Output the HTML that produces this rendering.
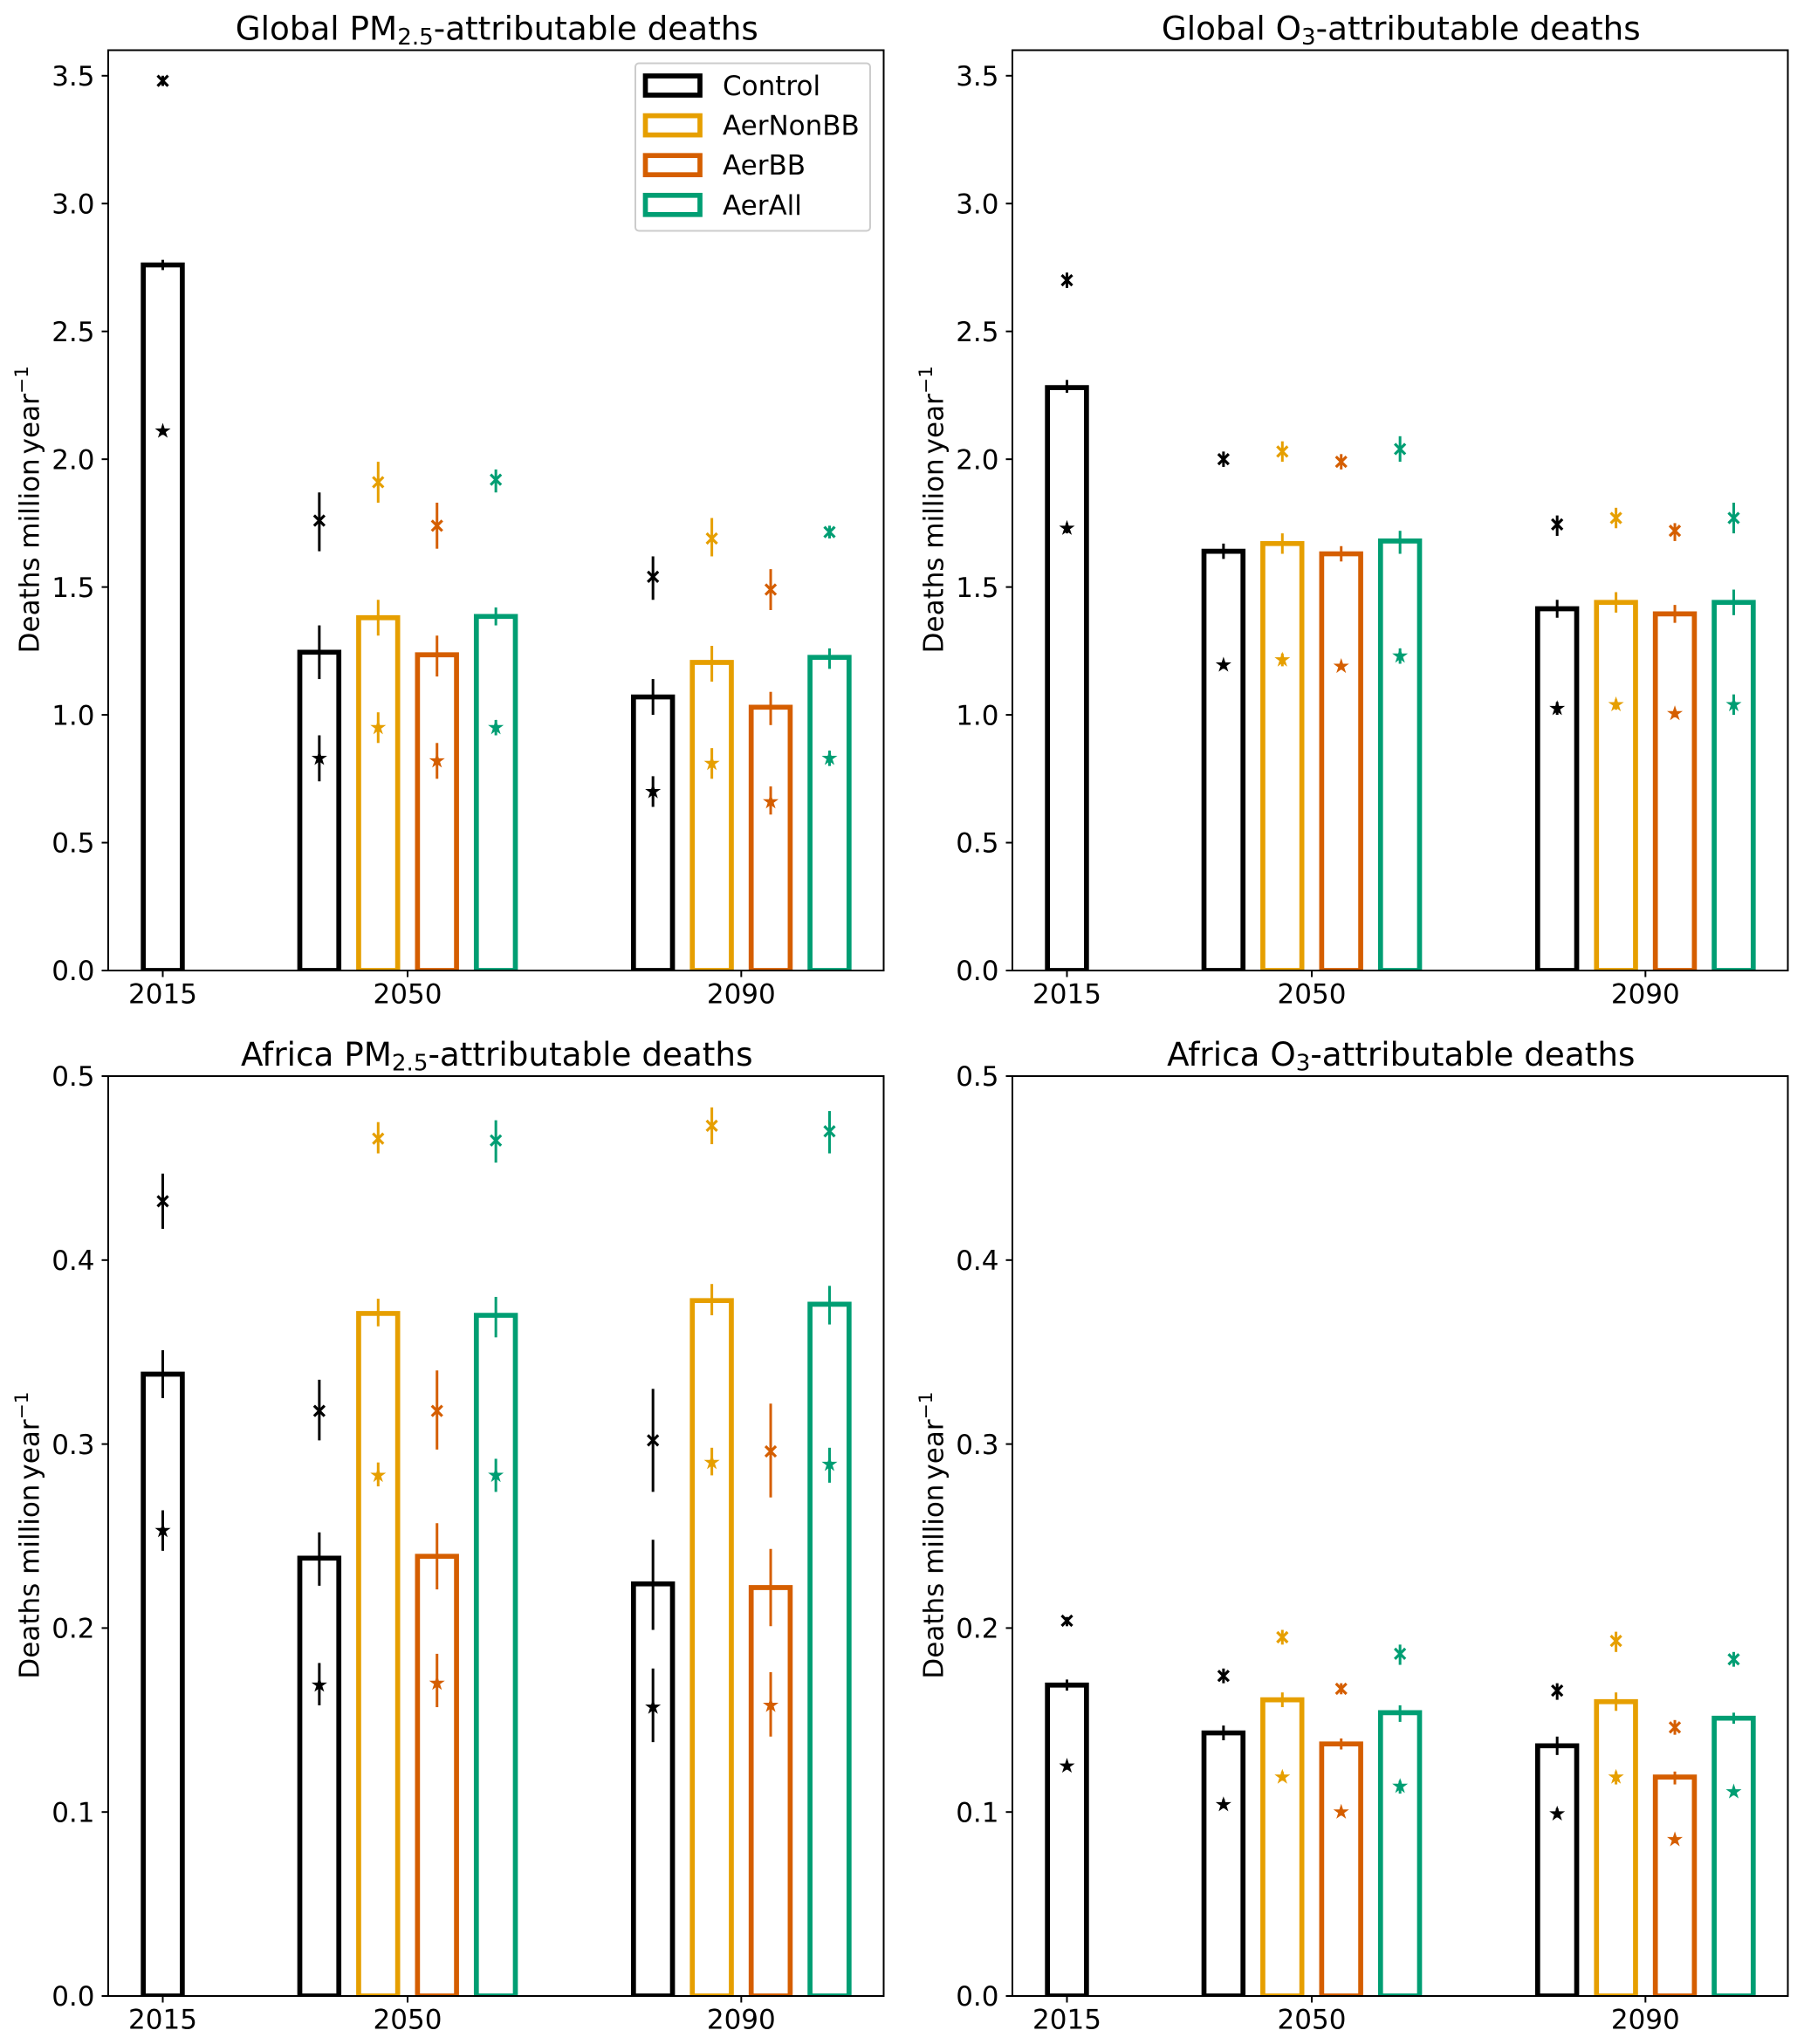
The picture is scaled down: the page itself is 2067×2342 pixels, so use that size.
<!DOCTYPE html>
<html>
<head>
<meta charset="utf-8">
<title>Attributable deaths</title>
<style>
html,body{margin:0;padding:0;background:#fff;}
svg{display:block;}
text{font-family:"DejaVu Sans",sans-serif;fill:#000;}
</style>
</head>
<body>
<svg id="fig" width="2067" height="2342" viewBox="0 0 2067 2342" xmlns="http://www.w3.org/2000/svg"></svg>
<script>
const yearLabels = ['2015', '2050', '2090'];
const yearPositions = [0, 4.16, 9.83];
const scenarioNames = ['Control', 'AerNonBB', 'AerBB', 'AerAll'];
const scenarioColors = ['#000000', '#E69F00', '#D55E00', '#009E73'];
const barYears = [0, 1, 1, 1, 1, 2, 2, 2, 2];
const barScenarios = [0, 0, 1, 2, 3, 0, 1, 2, 3];

const globalTicks = [0, 0.5, 1, 1.5, 2, 2.5, 3, 3.5];
const africaTicks = [0, 0.1, 0.2, 0.3, 0.4, 0.5];

const gpmBar = [2.76, 1.245, 1.38, 1.235, 1.385, 1.07, 1.205, 1.03, 1.225];
const gpmBarLow = [2.74, 1.14, 1.31, 1.15, 1.35, 1.00, 1.13, 0.96, 1.18];
const gpmBarHigh = [2.78, 1.35, 1.45, 1.31, 1.42, 1.14, 1.27, 1.09, 1.26];
const gpmUpper = [3.48, 1.76, 1.91, 1.74, 1.92, 1.54, 1.69, 1.49, 1.715];
const gpmUpperLow = [3.46, 1.64, 1.83, 1.65, 1.87, 1.45, 1.62, 1.41, 1.69];
const gpmUpperHigh = [3.50, 1.87, 1.99, 1.83, 1.96, 1.62, 1.77, 1.57, 1.74];
const gpmLower = [2.11, 0.83, 0.95, 0.82, 0.95, 0.70, 0.81, 0.66, 0.83];
const gpmLowerLow = [2.095, 0.74, 0.89, 0.75, 0.92, 0.64, 0.75, 0.61, 0.80];
const gpmLowerHigh = [2.125, 0.92, 1.01, 0.89, 0.98, 0.76, 0.87, 0.72, 0.86];

const go3Bar = [2.28, 1.64, 1.67, 1.63, 1.68, 1.415, 1.44, 1.395, 1.44];
const go3BarLow = [2.26, 1.61, 1.63, 1.60, 1.63, 1.38, 1.40, 1.36, 1.39];
const go3BarHigh = [2.31, 1.67, 1.71, 1.66, 1.72, 1.45, 1.48, 1.43, 1.49];
const go3Upper = [2.70, 2.00, 2.03, 1.99, 2.04, 1.745, 1.77, 1.72, 1.77];
const go3UpperLow = [2.67, 1.97, 1.99, 1.96, 1.99, 1.70, 1.73, 1.68, 1.71];
const go3UpperHigh = [2.73, 2.03, 2.07, 2.02, 2.09, 1.78, 1.81, 1.75, 1.83];
const go3Lower = [1.73, 1.195, 1.215, 1.19, 1.23, 1.025, 1.04, 1.005, 1.04];
const go3LowerLow = [1.71, 1.18, 1.19, 1.18, 1.20, 1.00, 1.02, 0.99, 1.00];
const go3LowerHigh = [1.75, 1.21, 1.24, 1.20, 1.26, 1.05, 1.06, 1.02, 1.08];

const apmBar = [0.338, 0.238, 0.371, 0.239, 0.370, 0.224, 0.378, 0.222, 0.376];
const apmBarLow = [0.325, 0.223, 0.364, 0.221, 0.358, 0.199, 0.370, 0.201, 0.365];
const apmBarHigh = [0.351, 0.252, 0.379, 0.257, 0.380, 0.248, 0.387, 0.243, 0.386];
const apmUpper = [0.432, 0.318, 0.466, 0.318, 0.465, 0.302, 0.473, 0.296, 0.470];
const apmUpperLow = [0.417, 0.302, 0.458, 0.297, 0.453, 0.274, 0.463, 0.271, 0.458];
const apmUpperHigh = [0.447, 0.335, 0.475, 0.340, 0.476, 0.330, 0.483, 0.322, 0.481];
const apmLower = [0.253, 0.169, 0.283, 0.170, 0.283, 0.157, 0.290, 0.158, 0.289];
const apmLowerLow = [0.242, 0.158, 0.277, 0.157, 0.274, 0.138, 0.283, 0.141, 0.279];
const apmLowerHigh = [0.264, 0.181, 0.290, 0.186, 0.292, 0.178, 0.298, 0.176, 0.298];

const ao3Bar = [0.169, 0.143, 0.161, 0.137, 0.154, 0.136, 0.160, 0.119, 0.151];
const ao3BarLow = [0.166, 0.139, 0.157, 0.134, 0.149, 0.131, 0.155, 0.115, 0.148];
const ao3BarHigh = [0.172, 0.147, 0.165, 0.140, 0.158, 0.141, 0.165, 0.122, 0.154];
const ao3Upper = [0.204, 0.174, 0.195, 0.167, 0.186, 0.166, 0.193, 0.146, 0.183];
const ao3UpperLow = [0.201, 0.170, 0.191, 0.164, 0.180, 0.161, 0.187, 0.142, 0.179];
const ao3UpperHigh = [0.206, 0.178, 0.199, 0.170, 0.191, 0.170, 0.198, 0.150, 0.187];
const ao3Lower = [0.125, 0.104, 0.119, 0.100, 0.114, 0.099, 0.119, 0.085, 0.111];
const ao3LowerLow = [0.123, 0.102, 0.117, 0.098, 0.110, 0.097, 0.115, 0.083, 0.109];
const ao3LowerHigh = [0.127, 0.107, 0.122, 0.101, 0.117, 0.102, 0.122, 0.086, 0.113];

const NS = 'http://www.w3.org/2000/svg';
const fig = document.getElementById('fig');
const TICK_FONT = 31;
const TITLE_FONT = 37.3;

function make(tag, attrs, parent) {
  const el = document.createElementNS(NS, tag);
  for (const k in attrs) el.setAttribute(k, attrs[k]);
  (parent || fig).appendChild(el);
  return el;
}

function starPoints(cx, cy, R) {
  const r = R * 0.381966;
  const pts = [];
  for (let i = 0; i < 10; i++) {
    const a = -Math.PI / 2 + i * Math.PI / 5;
    const q = i % 2 === 0 ? R : r;
    pts.push((cx + q * Math.cos(a)).toFixed(2) + ',' + (cy + q * Math.sin(a)).toFixed(2));
  }
  return pts.join(' ');
}

function drawPanel(p, idx) {
  const g = make('g', {});
  
  
  const xScale = v => p.left + (v - (-0.927)) / (12.25 + 0.927) * (p.right - p.left);
  const yScale = v => p.bottom - (v / p.ymax) * (p.bottom - p.top);
  const unit = xScale(1) - xScale(0);
  const barWidth = 0.663 * unit;

  const clipId = 'clip' + idx;
  const defs = make('defs', {}, g);
  const cp = make('clipPath', { id: clipId }, defs);
  make('rect', { x: p.left, y: p.top, width: p.right - p.left, height: p.bottom - p.top }, cp);

  const marks = make('g', { 'clip-path': 'url(#' + clipId + ')' }, g);

  barYears.forEach((yr, i) => {
    const sc = barScenarios[i];
    const color = scenarioColors[sc];
    const offset = yr === 0 ? 0 : sc - 1.5;
    const cx = xScale(yearPositions[yr] + offset);
    const sname = scenarioNames[sc].toLowerCase() + '-' + yearLabels[yr];

    const bar = make('path', {
      d: 'M' + (cx - barWidth / 2) + ' ' + yScale(0) + 'L' + (cx - barWidth / 2) + ' ' + yScale(p.bar[i]) +
         'L' + (cx + barWidth / 2) + ' ' + yScale(p.bar[i]) + 'L' + (cx + barWidth / 2) + ' ' + yScale(0) + 'Z',
      fill: 'none', stroke: color, 'stroke-width': 5.7, 'stroke-linejoin': 'miter'
    }, marks);
    
    

    const e1 = make('line', { x1: cx, x2: cx, y1: yScale(p.barLow[i]), y2: yScale(p.barHigh[i]), stroke: color, 'stroke-width': 3 }, marks);
    
    

    const e2 = make('line', { x1: cx, x2: cx, y1: yScale(p.upperLow[i]), y2: yScale(p.upperHigh[i]), stroke: color, 'stroke-width': 3 }, marks);
    
    

    const uy = yScale(p.upper[i]);
    const s = 6;
    const xm = make('path', {
      d: 'M' + (cx - s) + ' ' + (uy - s) + 'L' + (cx + s) + ' ' + (uy + s) + 'M' + (cx - s) + ' ' + (uy + s) + 'L' + (cx + s) + ' ' + (uy - s),
      stroke: color, 'stroke-width': 3.2, fill: 'none'
    }, marks);
    
    

    const e3 = make('line', { x1: cx, x2: cx, y1: yScale(p.lowerLow[i]), y2: yScale(p.lowerHigh[i]), stroke: color, 'stroke-width': 3 }, marks);
    
    

    const st = make('polygon', { points: starPoints(cx, yScale(p.lower[i]), 7.2), fill: color, stroke: color, 'stroke-width': 1.4 }, marks);
    
    
  });

  const frame = make('rect', { x: p.left, y: p.top, width: p.right - p.left, height: p.bottom - p.top, fill: 'none', stroke: '#000', 'stroke-width': 2 }, g);
  
  

  p.ticks.forEach(t => {
    const y = yScale(t);
    const tk = make('line', { x1: p.left - 7.5, x2: p.left, y1: y, y2: y, stroke: '#000', 'stroke-width': 2 }, g);
    
    
    const lb = make('text', { x: p.left - 15.5, y: y + 11.2, 'text-anchor': 'end', 'font-size': TICK_FONT }, g);
    
    
    lb.textContent = t.toFixed(1);
  });

  yearLabels.forEach((lab, i) => {
    const x = xScale(yearPositions[i]);
    const tk = make('line', { x1: x, x2: x, y1: p.bottom, y2: p.bottom + 7.5, stroke: '#000', 'stroke-width': 2 }, g);
    
    
    const lb = make('text', { x: x, y: p.bottom + 37.5, 'text-anchor': 'middle', 'font-size': TICK_FONT }, g);
    
    
    lb.textContent = lab;
  });

  const title = make('text', { x: (p.left + p.right) / 2 + 1, y: p.top - 12, 'text-anchor': 'middle', 'font-size': TITLE_FONT }, g);
  
  
  title.appendChild(document.createTextNode(p.title[0]));
  const sub = make('tspan', { dy: 5.5, 'font-size': TITLE_FONT * 0.7 }, title);
  sub.textContent = p.title[1];
  const rest = make('tspan', { dy: -5.5 }, title);
  rest.textContent = p.title[2];

  const cy = (p.top + p.bottom) / 2 - 1;
  const yl = make('text', { transform: 'translate(' + (p.left - 79.5) + ' ' + cy + ') rotate(-90)', 'text-anchor': 'middle', 'font-size': TICK_FONT }, g);
  
  
  yl.appendChild(document.createTextNode('Deaths million'));
  const yr = make('tspan', { dx: 5 }, yl);
  yr.textContent = 'year';
  const sup = make('tspan', { dy: -12.5, 'font-size': TICK_FONT * 0.7 }, yl);
  sup.textContent = '\u22121';
}

const panels = [
  { key: 'global-pm25', title: ['Global PM', '2.5', '-attributable deaths'], left: 124, right: 1012.5, top: 57.5, bottom: 1112, ymax: 3.6, ticks: globalTicks,
    bar: gpmBar, barLow: gpmBarLow, barHigh: gpmBarHigh, upper: gpmUpper, upperLow: gpmUpperLow, upperHigh: gpmUpperHigh, lower: gpmLower, lowerLow: gpmLowerLow, lowerHigh: gpmLowerHigh },
  { key: 'global-o3', title: ['Global O', '3', '-attributable deaths'], left: 1160, right: 2048.5, top: 57.5, bottom: 1112, ymax: 3.6, ticks: globalTicks,
    bar: go3Bar, barLow: go3BarLow, barHigh: go3BarHigh, upper: go3Upper, upperLow: go3UpperLow, upperHigh: go3UpperHigh, lower: go3Lower, lowerLow: go3LowerLow, lowerHigh: go3LowerHigh },
  { key: 'africa-pm25', title: ['Africa PM', '2.5', '-attributable deaths'], left: 124, right: 1012.5, top: 1233, bottom: 2287, ymax: 0.5, ticks: africaTicks,
    bar: apmBar, barLow: apmBarLow, barHigh: apmBarHigh, upper: apmUpper, upperLow: apmUpperLow, upperHigh: apmUpperHigh, lower: apmLower, lowerLow: apmLowerLow, lowerHigh: apmLowerHigh },
  { key: 'africa-o3', title: ['Africa O', '3', '-attributable deaths'], left: 1160, right: 2048.5, top: 1233, bottom: 2287, ymax: 0.5, ticks: africaTicks,
    bar: ao3Bar, barLow: ao3BarLow, barHigh: ao3BarHigh, upper: ao3Upper, upperLow: ao3UpperLow, upperHigh: ao3UpperHigh, lower: ao3Lower, lowerLow: ao3LowerLow, lowerHigh: ao3LowerHigh }
];

panels.forEach(drawPanel);

const legend = make('g', {});


make('rect', { x: 728, y: 72.5, width: 269, height: 192, rx: 4, ry: 4, fill: '#fff', 'fill-opacity': 0.8, stroke: '#ccc', 'stroke-width': 2 }, legend);
scenarioNames.forEach((name, i) => {
  const y = 87 + i * 45.6;
  const sw = make('rect', { x: 739.5, y: y, width: 62.5, height: 22, fill: 'none', stroke: scenarioColors[i], 'stroke-width': 5.7 }, legend);
  
  
  const t = make('text', { x: 828, y: y + 22, 'font-size': TICK_FONT }, legend);
  
  
  t.textContent = name;
});
</script>
</body>
</html>
